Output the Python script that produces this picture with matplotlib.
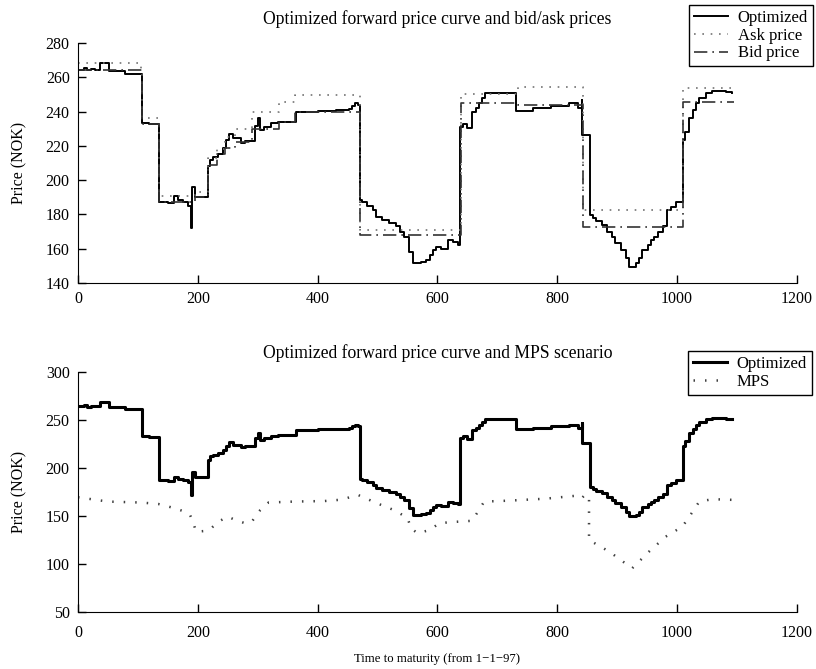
import numpy as np
import matplotlib
matplotlib.use("Agg")
import matplotlib.pyplot as plt

plt.rcParams['font.family'] = ['Liberation Serif', 'DejaVu Serif']
plt.rcParams['font.size'] = 11.5

# Optimized forward price curve (steps)
opt_day = [0, 10, 15, 22, 28, 36, 51, 78, 107, 118, 135, 150, 161, 167, 176, 183, 189, 191, 195,
           217, 220, 226, 233, 242, 247, 252, 259, 272, 278, 295, 300, 303, 311, 322, 333, 364,
           400, 430, 453, 458, 462, 467, 470, 474, 483, 492, 497, 508, 519, 530, 538, 544, 553,
           559, 572, 581, 587, 592, 597, 606, 617, 626, 634, 638, 642, 650, 658, 664, 669, 674,
           680, 731, 760, 790, 820, 834, 841, 842, 854, 859, 865, 874, 883, 891, 897, 906, 914,
           920, 931, 937, 942, 951, 957, 962, 968, 976, 983, 990, 998, 1010, 1014, 1020, 1026,
           1031, 1037, 1048, 1058, 1070, 1082, 1092]
opt_price = [264.5, 265.5, 264, 265, 264.5, 268.5, 263.7, 261.8, 233.2, 232.5, 187.4, 186.5, 190.8,
             188.5, 187, 185, 172, 196, 190.3, 208, 212, 213.5, 215.5, 218.5, 223.4, 227, 224.4,
             221.5, 223, 231.6, 236, 229.3, 231, 233.2, 234, 240, 240.5, 241, 241.5, 243.5, 245.2,
             243.6, 188.4, 187, 185, 182.6, 178.7, 176.8, 174.9, 173, 170, 167, 158.3, 151.5, 152,
             153.5, 156.3, 159.2, 161, 160, 165, 164, 162, 231.2, 233, 230.3, 240, 242, 244.8,
             247.7, 250.7, 240.6, 242, 243.5, 245, 242, 246.8, 226.4, 179.7, 177.8, 175.9, 174,
             170, 167, 163.2, 159.3, 154.4, 149.5, 151.5, 154.4, 159.3, 162.2, 165, 167, 170, 173,
             182.6, 184.5, 187, 223.4, 228.3, 236, 240.9, 244.8, 247.7, 250.7, 251.8, 252.2,
             251.5, 250.7]

# Ask and bid prices (steps)
ask_day = [0, 105, 107, 135, 195, 217, 232, 245, 262, 290, 335, 362, 470, 640, 735, 843, 1010, 1095]
ask_price = [268.5, 265, 236, 190.5, 193, 213, 218, 225, 230, 240, 245.5, 249.7, 171, 250, 254.5,
             182.6, 254, 254]
bid_day = [0, 107, 135, 195, 217, 232, 245, 262, 290, 335, 362, 470, 640, 735, 843, 1010, 1095]
bid_price = [264, 233, 187, 190, 209, 215, 219, 222, 230, 234, 240, 168, 245.2, 244, 172.5,
             245.8, 245.8]

# MPS scenario
mps_day = [0, 50, 106, 134, 162, 178, 187, 192, 197, 214, 222, 234, 250, 262, 279, 290, 304, 318,
           360, 412, 440, 467, 500, 528, 550, 556, 567, 587, 603, 620, 658, 678, 720, 780, 830,
           840, 847, 853, 853, 887, 925, 953, 981, 1009, 1026, 1037, 1059, 1092]
mps_price = [169.5, 165, 164, 162.5, 158, 154.5, 151, 144, 133.6, 134.5, 137, 144, 149.3, 146,
             142.4, 144, 156, 164, 165, 165.6, 167, 172, 163, 156, 148, 137, 132, 135.4, 142.4,
             143.5, 145, 165, 166, 168, 171, 168, 172.5, 170, 125, 112.8, 95.5, 112.8, 128.5, 139,
             154.5, 165, 167.5, 166.8]

fig = plt.figure(figsize=(8.16, 6.69), dpi=100)
ax1 = fig.add_axes([0.0956, 0.577, 0.881, 0.3587])
ax2 = fig.add_axes([0.0956, 0.0852, 0.881, 0.3588])

leg_kw = dict(loc='upper right', bbox_transform=fig.transFigure, fancybox=False,
              edgecolor='black', framealpha=1, borderpad=0.3, labelspacing=0.1,
              handlelength=2.0, handletextpad=0.6, borderaxespad=0, fontsize=12)

ax1.plot(opt_day, opt_price, drawstyle='steps-post', color='black', lw=1.4, label='Optimized')
ax1.plot(ask_day, ask_price, drawstyle='steps-post', color='0.45', lw=1.2,
         linestyle=(0, (1, 4)), label='Ask price')
ax1.plot(bid_day, bid_price, drawstyle='steps-post', color='0.2', lw=1.2,
         linestyle=(0, (8, 3, 1, 3)), label='Bid price')
ax1.set_xlim(0, 1200)
ax1.set_ylim(140, 280)
ax1.set_yticks(np.arange(140, 281, 20))
ax1.set_ylabel('Price (NOK)')
ax1.set_title('Optimized forward price curve and bid/ask prices', pad=14, fontsize=12.7)
ax1.legend(bbox_to_anchor=(0.9963, 0.9925), **leg_kw)

ax2.plot(opt_day, opt_price, drawstyle='steps-post', color='black', lw=2.2, label='Optimized')
ax2.plot(mps_day, mps_price, color='0.25', lw=1.8, linestyle=(0, (0.6, 4)), label='MPS')
ax2.set_xlim(0, 1200)
ax2.set_ylim(50, 300)
ax2.set_yticks(np.arange(50, 301, 50))
ax2.set_ylabel('Price (NOK)')
ax2.set_xlabel('Time to maturity (from 1\u22121\u221297)', labelpad=9, fontsize=9.2)
ax2.set_title('Optimized forward price curve and MPS scenario', pad=10, fontsize=12.7)
ax2.legend(bbox_to_anchor=(0.995, 0.4753), **leg_kw)

for ax in (ax1, ax2):
    ax.spines['top'].set_visible(False)
    ax.spines['right'].set_visible(False)
    ax.set_xticks(np.arange(0, 1201, 200))
    ax.tick_params(direction='in', length=6, width=1, pad=6)
    ax.yaxis.set_label_coords(-0.07, 0.5)
ax2.tick_params(axis='x', pad=9)

fig.savefig('out.png', dpi=100)
